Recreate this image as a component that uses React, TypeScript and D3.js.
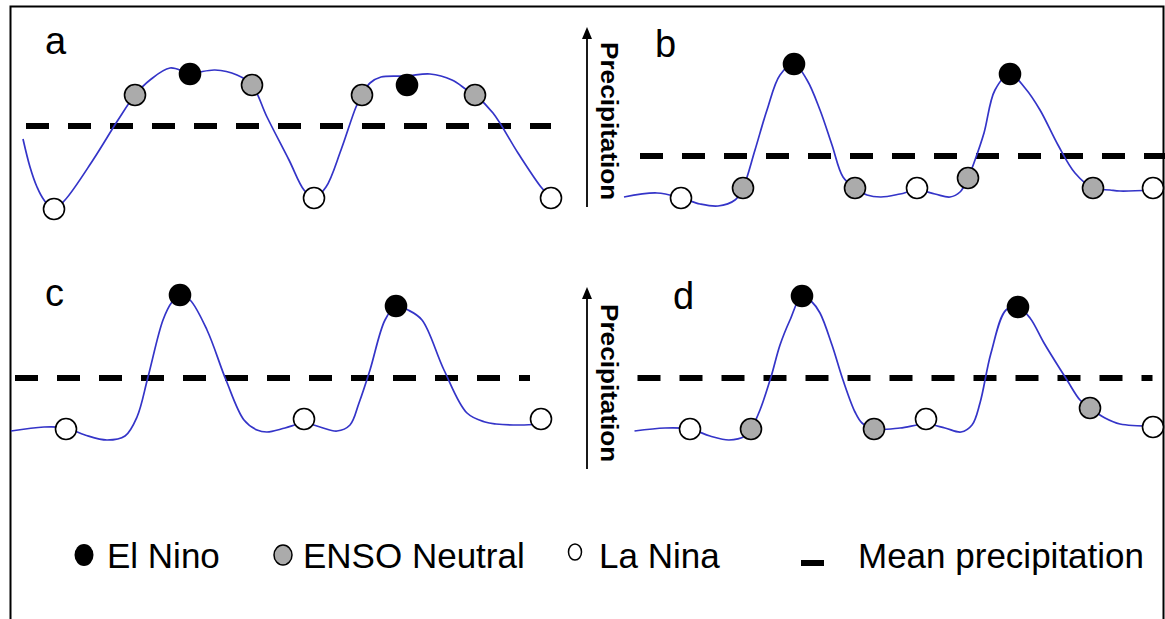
import React from "react";
import * as d3 from "d3";

// ---- data (time units along x, precipitation units along y) ----
type Pt = [number, number];
type Mk = [number, number, string];

const panelLabels = ["a", "b", "c", "d"];

const curveA: Pt[] = [
  [13, 81], [20, 53], [27, 33], [34, 20], [44, 11], [55, 20], [83, 60], [108, 100],
  [125, 125], [140, 140], [160, 152], [180, 147], [205, 150], [227, 145], [242, 135],
  [257, 103], [279, 60], [294, 30], [304, 22], [316, 33], [331, 70], [346, 113],
  [352, 125], [360, 137], [371, 143], [397, 144], [420, 146], [442, 140], [457, 130],
  [465, 125], [483, 107], [508, 67], [531, 33], [541, 22],
];
const markersA: Mk[] = [
  [44, 11, "La Nina"], [125, 125, "Neutral"], [180, 146, "El Nino"], [242, 135, "Neutral"],
  [304, 22, "La Nina"], [352, 125, "Neutral"], [397, 135, "El Nino"], [465, 125, "Neutral"],
  [541, 22, "La Nina"],
];

const curveB: Pt[] = [
  [4, 23], [37, 27], [61, 22], [80, 16], [98, 14], [115, 20], [123, 32], [135, 70],
  [147, 110], [160, 145], [174, 156], [187, 140], [200, 110], [212, 75], [223, 43],
  [235, 32], [247, 25], [261, 23], [280, 26], [297, 30], [315, 26], [330, 23], [340, 28],
  [348, 42], [355, 60], [364, 87], [375, 130], [390, 146], [405, 132], [420, 110],
  [438, 75], [455, 47], [473, 32], [490, 30], [500, 29], [533, 30],
];
const markersB: Mk[] = [
  [61, 22, "La Nina"], [123, 32, "Neutral"], [174, 156, "El Nino"], [235, 32, "Neutral"],
  [297, 32, "La Nina"], [348, 42, "Neutral"], [390, 146, "El Nino"], [473, 32, "Neutral"],
  [533, 32, "La Nina"],
];

const curveC: Pt[] = [
  [1, 39], [34, 43], [56, 42], [75, 35], [97, 30], [115, 34], [127, 53], [138, 93],
  [153, 150], [162, 168], [170, 175], [180, 170], [197, 140], [216, 90], [234, 50],
  [247, 40], [257, 38], [275, 42], [294, 47], [310, 43], [327, 39], [340, 45], [349, 67],
  [360, 100], [375, 150], [386, 164], [398, 160], [412, 150], [434, 100], [457, 57],
  [475, 48], [486, 46], [510, 45], [531, 46],
];
const markersC: Mk[] = [
  [56, 41, "La Nina"], [170, 175, "El Nino"], [294, 51, "La Nina"], [386, 164, "El Nino"],
  [531, 51, "La Nina"],
];

const curveD: Pt[] = [
  [14.5, 39], [45, 42], [70, 41], [90, 34], [109, 30], [125, 34], [131, 41], [140, 60],
  [151, 93], [160, 125], [170, 150], [182, 174], [192, 168], [200, 157], [212, 125],
  [223, 90], [235, 58], [242, 47], [254, 41], [280, 42], [306, 46], [325, 42], [341, 38],
  [352, 45], [360, 67], [371, 117], [386, 160], [398, 163], [410, 152], [424, 127],
  [447, 90], [460, 70], [470, 62], [485, 52], [500, 46], [533, 44],
];
const markersD: Mk[] = [
  [70, 41, "La Nina"], [131, 41, "Neutral"], [182, 174, "El Nino"], [254, 41, "Neutral"],
  [306, 51, "La Nina"], [398, 163, "El Nino"], [470, 62, "Neutral"], [533, 43, "La Nina"],
];

// mean precipitation level and its extent along time, per panel
const meanLevel = [94, 64, 92, 92];
const meanStart = [16, 20, 5, 17.5];
const meanEnd = [541, 550, 520, 532.5];

const legendItems = ["El Nino", "ENSO Neutral", "La Nina", "Mean precipitation"];
const axisTitle = "Precipitation";

// ---- styling ----
const phaseFill: Record<string, string> = {
  "El Nino": "#000000",
  Neutral: "#ababab",
  "La Nina": "#ffffff",
};
const FONT = "'Liberation Sans', Arial, Helvetica, sans-serif";
const LINE = "#3434c8";

const panels = [
  { curve: curveA, markers: markersA, x0: 10, yBase: 220, lx: 45, ly: 54, axis: null },
  { curve: curveB, markers: markersB, x0: 620, yBase: 220, lx: 655, ly: 57, axis: { tip: 27, bottom: 207, t0: 42 } },
  { curve: curveC, markers: markersC, x0: 10, yBase: 470, lx: 45, ly: 306, axis: null },
  { curve: curveD, markers: markersD, x0: 620, yBase: 470, lx: 673, ly: 309, axis: { tip: 287, bottom: 469, t0: 304 } },
];

export default function App() {
  const W = 1165;
  const H = 619;
  const titleNatural = 139; // natural bold width at 23px
  const titleLen = 158;
  return (
    <svg
      width={W}
      height={H}
      style={{ position: "absolute", left: 0, top: 0, background: "#fff" }}
    >
      {/* frame */}
      <path d={`M10.5,${H + 10} L10.5,6.5 L1163.5,6.5 L1163.5,${H + 10}`} fill="none" stroke="#000" strokeWidth={2} />
      {panels.map((p, i) => {
        const x = d3.scaleLinear().domain([0, 560]).range([p.x0, p.x0 + 560]);
        const y = d3.scaleLinear().domain([0, 220]).range([p.yBase, p.yBase - 220]);
        const line = d3
          .line<Pt>()
          .x((d) => x(d[0]))
          .y((d) => y(d[1]))
          .curve(d3.curveCatmullRom.alpha(0.5));
        return (
          <g key={i}>
            <text x={p.lx} y={p.ly} fontFamily={FONT} fontSize={38} fill="#000">
              {panelLabels[i]}
            </text>
            <line
              x1={x(meanStart[i])}
              x2={x(meanEnd[i])}
              y1={y(meanLevel[i])}
              y2={y(meanLevel[i])}
              stroke="#000"
              strokeWidth={6}
              strokeDasharray="23 19"
            />
            <path d={line(p.curve) || ""} fill="none" stroke={LINE} strokeWidth={1.7} />
            {p.markers.map((m, j) => (
              <circle
                key={j}
                cx={x(m[0])}
                cy={y(m[1])}
                r={10.5}
                fill={phaseFill[m[2]]}
                stroke="#000"
                strokeWidth={1.6}
              />
            ))}
            {p.axis && (
              <g>
                <line x1={587} x2={587} y1={p.axis.bottom} y2={p.axis.tip + 8} stroke="#000" strokeWidth={1.8} />
                <path
                  d={`M587,${p.axis.tip} L582,${p.axis.tip + 12} L592,${p.axis.tip + 12} Z`}
                  fill="#000"
                />
                <text
                  transform={`translate(601,${p.axis.t0}) rotate(90) scale(${titleLen / titleNatural},1)`}
                  fontFamily={FONT}
                  fontWeight="bold"
                  fontSize={23}
                  fill="#000"
                >
                  {axisTitle}
                </text>
              </g>
            )}
          </g>
        );
      })}
      {/* legend */}
      <g fontFamily={FONT} fontSize={35} fill="#000">
        <ellipse cx={84} cy={555} rx={9.5} ry={11} fill="#000" />
        <text x={107} y={568}>{legendItems[0]}</text>
        <ellipse cx={283} cy={555} rx={9} ry={10} fill="#ababab" stroke="#000" strokeWidth={1.5} />
        <text x={303} y={568}>{legendItems[1]}</text>
        <ellipse cx={575} cy={552} rx={6.5} ry={8} fill="#fff" stroke="#000" strokeWidth={1.5} />
        <text x={599} y={568}>{legendItems[2]}</text>
        <line x1={801} x2={824} y1={563} y2={563} stroke="#000" strokeWidth={6} />
        <text x={858} y={568}>{legendItems[3]}</text>
      </g>
    </svg>
  );
}
